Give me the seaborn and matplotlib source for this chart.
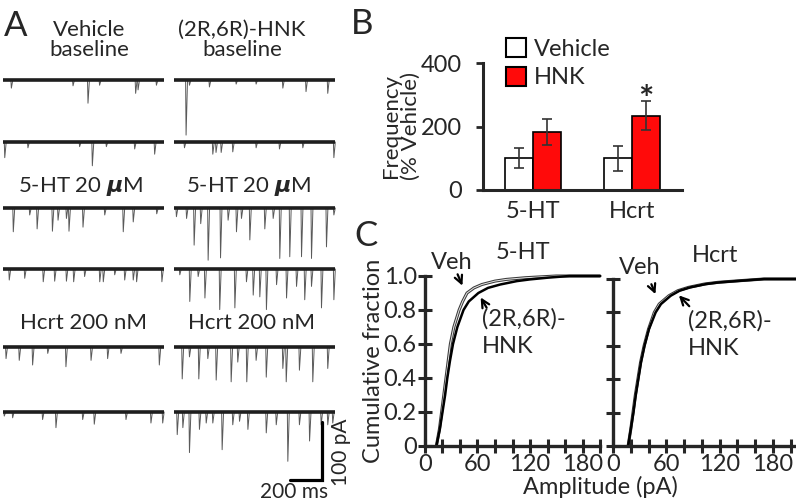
import matplotlib
matplotlib.use("Agg")
import matplotlib.pyplot as plt
import matplotlib.patheffects as pe
from matplotlib.patches import Patch
import pandas as pd
import seaborn as sns

W, H = 796, 504
RED = "#FF0A0A"

# ---------- A: example sEPSC traces, events as time (ms) / amplitude (pA) ----------
veh_base1_t = [52, 435, 528, 600, 824, 839, 953]
veh_base1_a = [14, 10, 40, 9, 23, 17, 9]
hnk_base1_t = [72, 93, 217, 383, 507, 673, 817, 952]
hnk_base1_a = [95, 9, 12, 7, 7, 14, 20, 23]
veh_base2_t = [11, 155, 476, 555, 642, 818, 942]
veh_base2_a = [27, 10, 8, 41, 8, 12, 21]
hnk_base2_t = [62, 238, 258, 290, 362, 507, 652, 797, 990]
hnk_base2_a = [10, 21, 18, 18, 17, 10, 12, 10, 27]

veh_5ht1_t = [64, 166, 212, 307, 342, 394, 410, 497, 632, 747, 809, 955]
veh_5ht1_a = [41, 12, 36, 40, 21, 18, 40, 33, 12, 41, 24, 10]
hnk_5ht1_t = [12, 75, 122, 163, 209, 286, 333, 385, 416, 468, 561, 613, 654, 716, 789, 851, 944, 990]
hnk_5ht1_a = [15, 18, 64, 27, 90, 86, 21, 41, 18, 55, 36, 18, 87, 84, 84, 87, 67, 12]
veh_5ht2_t = [39, 135, 250, 321, 394, 439, 507, 601, 623, 694, 756, 809, 830, 987]
veh_5ht2_a = [19, 16, 22, 21, 21, 22, 13, 22, 22, 10, 19, 19, 22, 22]
hnk_5ht2_t = [33, 95, 147, 189, 281, 375, 447, 489, 530, 571, 634, 696, 758, 809, 851, 913, 990]
hnk_5ht2_a = [10, 56, 13, 50, 70, 67, 22, 45, 48, 70, 27, 50, 30, 53, 30, 67, 53]

veh_hcrt1_t = [19, 101, 184, 278, 391, 547, 650, 733, 971]
veh_hcrt1_a = [20, 23, 31, 11, 34, 23, 20, 11, 31]
hnk_hcrt1_t = [48, 93, 151, 207, 259, 352, 393, 449, 507, 570, 673, 694, 776, 859, 952]
hnk_hcrt1_a = [55, 17, 55, 20, 57, 60, 26, 60, 23, 52, 37, 60, 40, 60, 37]
veh_hcrt2_t = [8, 60, 246, 329, 495, 567, 764, 919, 992]
veh_hcrt2_a = [7, 10, 13, 27, 13, 21, 13, 19, 19]
hnk_hcrt2_t = [17, 52, 93, 155, 197, 238, 296, 362, 404, 456, 570, 632, 704, 776, 839, 911, 952, 983]
hnk_hcrt2_a = [39, 27, 70, 30, 19, 19, 65, 22, 16, 30, 36, 22, 85, 22, 50, 22, 22, 19]

# ---------- B: sEPSC frequency ----------
drugs = ["5-HT", "5-HT", "Hcrt", "Hcrt"]
groups = ["Vehicle", "HNK", "Vehicle", "HNK"]
freq_mean = [100, 183, 100, 234]
freq_sem = [32, 42, 39, 45]

# ---------- C: cumulative amplitude distributions ----------
cdf_frac = [0, .1, .2, .3, .4, .5, .6, .7, .8, .85, .9, .93, .95, .97, .98, .99, 1.0, 1.0]
amp_5ht_veh = [13, 16.5, 19, 21.5, 24, 26.5, 29, 33, 39, 43, 48, 56, 65, 80, 93, 115, 150, 200]
amp_5ht_hnk = [13, 17, 20, 23, 25.5, 28.5, 32, 37, 44, 50, 61, 72, 86, 105, 120, 140, 165, 200]
amp_hcrt_veh = [17, 20, 22.5, 25, 28, 31, 35, 40, 46.5, 52, 63, 73, 85, 103, 118, 143, 170, 206]
amp_hcrt_hnk = [17, 20, 23, 25.5, 28.5, 31.5, 35.5, 40.5, 48, 54, 65, 75, 87, 105, 120, 145, 170, 206]

sns.set_theme(style="ticks")
plt.rcParams["font.family"] = ["Lato", "DejaVu Sans"]
plt.rcParams["mathtext.fontset"] = "dejavusans"

fig = plt.figure(figsize=(W / 100, H / 100), dpi=100)


def px_axes(x, y, w, h):
    # pixel box (left, top, width, height) -> figure axes
    return fig.add_axes([x / W, 1 - (y + h) / H, w / W, h / H])


def ftext(x, y, s, **kw):
    fig.text(x / W, 1 - y / H, s, **kw)


# ----- panel A -----
PA_PX = 0.58      # px per pA  (100 pA bar = 58 px)
TRACE_W = 161     # px per 1000 ms
col_x = [2.5, 174]
row_y = [80, 142, 208, 269, 347, 412]
traces = [
    [(veh_base1_t, veh_base1_a), (hnk_base1_t, hnk_base1_a)],
    [(veh_base2_t, veh_base2_a), (hnk_base2_t, hnk_base2_a)],
    [(veh_5ht1_t, veh_5ht1_a), (hnk_5ht1_t, hnk_5ht1_a)],
    [(veh_5ht2_t, veh_5ht2_a), (hnk_5ht2_t, hnk_5ht2_a)],
    [(veh_hcrt1_t, veh_hcrt1_a), (hnk_hcrt1_t, hnk_hcrt1_a)],
    [(veh_hcrt2_t, veh_hcrt2_a), (hnk_hcrt2_t, hnk_hcrt2_a)],
]
last_ax = None
for r, row in enumerate(traces):
    for c, (times, amps) in enumerate(row):
        ax = px_axes(col_x[c], row_y[r] - 20 * PA_PX, TRACE_W, 140 * PA_PX)
        ax.set_xlim(0, 1000)
        ax.set_ylim(-120, 20)
        ax.axis("off")
        for t, a in zip(times, amps):
            ax.plot([t, t + 3, t + 12], [0, -a, 0], color="#5a5a5a", lw=0.7, clip_on=False)
        ax.plot([0, 1000], [0, 0], color="#1e1e1e", lw=2.6, solid_capstyle="butt")
        last_ax = ax

# scale bar: 200 ms / 100 pA
last_ax.plot([720, 920, 920], [-117, -117, -17], color="black", lw=2.3, clip_on=False,
             solid_joinstyle="miter")
last_ax.text(745, -121, "200 ms", ha="center", va="top", fontsize=15)
last_ax.text(1040, -70, "100 pA", ha="center", va="center", rotation=90, fontsize=15)

FA = 16
ftext(89, 40, "Vehicle\nbaseline", ha="center", va="center", fontsize=FA, linespacing=1.05)
ftext(242, 40, "(2R,6R)-HNK\nbaseline", ha="center", va="center", fontsize=FA, linespacing=1.05)
mu = r"$\boldsymbol{\mu}$"
ftext(81, 187, "5-HT 20 " + mu + "M", ha="center", va="center", fontsize=FA)
ftext(249, 187, "5-HT 20 " + mu + "M", ha="center", va="center", fontsize=FA)
ftext(83, 323, "Hcrt 200 nM", ha="center", va="center", fontsize=FA)
ftext(252, 323, "Hcrt 200 nM", ha="center", va="center", fontsize=FA)

ftext(16, 26, "A", ha="center", va="center", fontsize=25)
ftext(362, 24, "B", ha="center", va="center", fontsize=25)
ftext(366, 236, "C", ha="center", va="center", fontsize=25)

# ----- panel B -----
FS = 17
axB = px_axes(483, 63, 199, 127)
sns.barplot(x=drugs, y=freq_mean, hue=groups, hue_order=["Vehicle", "HNK"],
            palette={"Vehicle": "white", "HNK": RED}, saturation=1, edgecolor="black",
            linewidth=1.2, width=0.57, errorbar=None, legend=False, ax=axB)
bars = sorted(axB.patches, key=lambda p: p.get_x())
for bar, m, e in zip(bars, freq_mean, freq_sem):
    xc = bar.get_x() + bar.get_width() / 2
    axB.errorbar(xc, m, yerr=e, fmt="none", ecolor="#333333", elinewidth=1.2,
                 capsize=3.5, capthick=1.2)
hnk_hcrt_bar = bars[3]
axB.text(hnk_hcrt_bar.get_x() + hnk_hcrt_bar.get_width() / 2, freq_mean[3] + freq_sem[3] + 2,
         "*", ha="center", va="center", fontsize=26, fontweight="bold")
axB.set_xlim(-0.505, 1.505)
axB.set_ylim(0, 400)
axB.set_yticks([0, 200, 400])
sns.despine(ax=axB)
for s in ["left", "bottom"]:
    axB.spines[s].set_linewidth(2.2)
axB.tick_params(axis="y", direction="out", length=5, width=2, labelsize=FS, pad=10)
axB.tick_params(axis="x", length=0, labelsize=FS, pad=8)
axB.set_ylabel("Frequency\n(% Vehicle)", fontsize=16, linespacing=1.0)
axB.yaxis.set_label_coords((421 - 483) / 199, 0.5)
axB.set_xlabel("")

leg_handles = [Patch(facecolor="white", edgecolor="black", linewidth=1.5, label="Vehicle"),
               Patch(facecolor=RED, edgecolor="black", linewidth=1.5, label="HNK")]
fig.legend(handles=leg_handles, loc="upper left", bbox_to_anchor=(506 / W, 1 - 38 / H),
           frameon=False, fontsize=FS, handlelength=0.85, handleheight=0.85,
           handletextpad=0.35, labelspacing=0.3, borderpad=0, borderaxespad=0)

# ----- panel C -----
axL = px_axes(425, 276, 175, 170)
axR = px_axes(613, 279, 183, 167)
panels = [
    (axL, amp_5ht_veh, amp_5ht_hnk, 200, "5-HT"),
    (axR, amp_hcrt_veh, amp_hcrt_hnk, 206, "Hcrt"),
]
veh_outline = [pe.Stroke(linewidth=2.2, foreground="#3a3a3a"), pe.Normal()]
for ax, veh, hnk, xmax, title in panels:
    df = pd.DataFrame({
        "amp": veh + hnk,
        "frac": cdf_frac + cdf_frac,
        "group": ["Veh"] * len(veh) + ["HNK"] * len(hnk),
    })
    sns.lineplot(data=df[df.group == "Veh"], x="amp", y="frac", color="#e6e6e6", lw=0.7,
                 sort=False, estimator=None, ax=ax, clip_on=False, path_effects=veh_outline)
    sns.lineplot(data=df[df.group == "HNK"], x="amp", y="frac", color="black", lw=1.8,
                 sort=False, estimator=None, ax=ax, clip_on=False)
    ax.set_xlim(0, xmax)
    ax.set_ylim(0, 1.0)
    ax.set_xticks(range(0, 201, 20))
    ax.set_xticklabels([str(v) if v % 60 == 0 else "" for v in range(0, 201, 20)])
    ax.set_yticks([0, 0.2, 0.4, 0.6, 0.8, 1.0])
    sns.despine(ax=ax)
    for s in ["left", "bottom"]:
        ax.spines[s].set_linewidth(2.4)
    ax.tick_params(direction="inout", length=10, width=2.2, labelsize=FS, pad=1)
    ax.set_xlabel("")
    ax.set_ylabel("")
    ax.text(xmax * 0.56, 1.14, title, ha="center", va="center", fontsize=FS)

axL.set_yticklabels(["0", "0.2", "0.4", "0.6", "0.8", "1.0"])
axR.set_yticklabels([])
axL.set_ylabel("Cumulative fraction", fontsize=FS)
axL.yaxis.set_label_coords((384 - 425) / 175, 0.5)

arrow = dict(arrowstyle="->", color="black", lw=1.6, mutation_scale=14)
# left (5-HT)
axL.text(30, 1.08, "Veh", ha="center", va="center", fontsize=FS)
axL.annotate("", xy=(44, 0.928), xytext=(36, 1.025), arrowprops=arrow, annotation_clip=False)
axL.annotate("", xy=(62, 0.888), xytext=(72, 0.80), arrowprops=arrow, annotation_clip=False)
axL.text(65, 0.81, "(2R,6R)-\nHNK", ha="left", va="top", fontsize=FS, linespacing=1.35)
# right (Hcrt)
axR.text(30, 1.066, "Veh", ha="center", va="center", fontsize=FS)
axR.annotate("", xy=(49, 0.894), xytext=(42, 0.984), arrowprops=arrow, annotation_clip=False)
axR.annotate("", xy=(72, 0.914), xytext=(88, 0.825), arrowprops=arrow, annotation_clip=False)
axR.text(84, 0.814, "(2R,6R)-\nHNK", ha="left", va="top", fontsize=FS, linespacing=1.35)

ftext(600, 487, "Amplitude (pA)", ha="center", va="center", fontsize=FS)

fig.savefig("out.png", dpi=100)
